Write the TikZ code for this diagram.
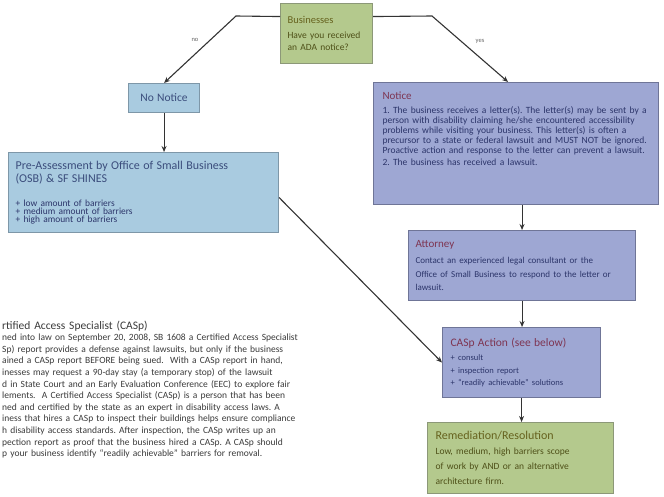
\documentclass[tikz,border=0pt]{standalone}
\usepackage{fontspec}
\setmainfont{Carlito}
\usetikzlibrary{arrows.meta}
\definecolor{gfill}{HTML}{B4C98D}
\definecolor{gedge}{HTML}{8C9878}
\definecolor{bfill}{HTML}{A9CBE0}
\definecolor{bedge}{HTML}{7E97A8}
\definecolor{pfill}{HTML}{9EA7D3}
\definecolor{pedge}{HTML}{6F7597}
\definecolor{olivet}{HTML}{66621E}
\definecolor{oliveb}{HTML}{4E5018}
\definecolor{bluet}{HTML}{3B4D7C}
\definecolor{navyb}{HTML}{2C356A}
\definecolor{maroon}{HTML}{7E3552}
\definecolor{parat}{HTML}{3A3A3A}
\definecolor{linec}{HTML}{333333}
\setlength\lineskiplimit{-20pt}
\frenchspacing
\newcommand\myfs[2]{\fontsize{#1}{#2}\selectfont}
\begin{document}
\begin{tikzpicture}[x=1pt,y=-1pt,
  box/.style={draw, line width=1.1pt, anchor=north west, align=left, inner ysep=0pt},
  gbox/.style={box, fill=gfill, draw=gedge},
  bbox/.style={box, fill=bfill, draw=bedge},
  pbox/.style={box, fill=pfill, draw=pedge},
  arr/.style={draw=linec, line width=1.1pt, -{Stealth[length=6pt,width=5pt]}},
  lbl/.style={font=\myfs{6.5}{7}, text=black!60, inner sep=1pt},
  para/.style={anchor=north west, inner sep=0pt, align=left, text width=360pt}
]
\useasboundingbox (0,0) rectangle (664,497);

% boxes
\node[gbox, minimum width=92pt, minimum height=60pt, inner xsep=7pt, text width=78pt] (biz) at (280,3)
  {\myfs{9.5}{15}{\color{olivet}\myfs{10.5}{15}Businesses}\\\color{oliveb}Have you received\\an ADA notice?};

\node[bbox, minimum width=71pt, minimum height=29pt, inner xsep=2pt, text width=67pt, align=center] (nn) at (128,83)
  {\myfs{11.5}{13}\color{bluet}No Notice};

\node[bbox, minimum width=270pt, minimum height=80pt, inner xsep=7pt, text width=256pt] (pre) at (8,152)
  {\color{bluet}\myfs{12}{13}Pre-Assessment by Office of Small Business\\(OSB) \& SF SHINES\par
   \vspace{16pt}\color{navyb}\myfs{9.4}{8.2}+ low amount of barriers\\+ medium amount of barriers\\+ high amount of barriers\par};

\node[pbox, minimum width=285pt, minimum height=122pt, inner xsep=9pt, text width=267pt] (notice) at (373,82)
  {{\color{maroon}\myfs{11}{12}Notice\par}\vspace{4pt}
   \color{navyb}\myfs{9.5}{9.9}1. The business receives a letter(s). The letter(s) may be sent by a\\
   person with disability claiming he/she encountered accessibility\\
   problems while visiting your business. This letter(s) is often a\\
   precursor to a state or federal lawsuit and MUST NOT be ignored.\\
   Proactive action and response to the letter can prevent a lawsuit.\par
   \vspace{2pt}2. The business has received a lawsuit.\par\vspace{30pt}};

\node[pbox, minimum width=227pt, minimum height=70pt, inner xsep=7pt, text width=213pt] (att) at (408,230)
  {{\color{maroon}\myfs{11}{12}Attorney\par}\vspace{3pt}
   \color{navyb}\myfs{9}{13.5}Contact an experienced legal consultant or the\\
   Office of Small Business to respond to the letter or\\lawsuit.\par};

\node[pbox, minimum width=158pt, minimum height=70pt, inner xsep=8pt, text width=142pt] (casp) at (442,327)
  {{\color{maroon}\myfs{11.5}{12}CASp Action (see below)\par}\vspace{2pt}
   \color{navyb}\myfs{8.5}{12.5}+ consult\\+ inspection report\\+ “readily achievable” solutions\par};

\node[gbox, minimum width=186pt, minimum height=71pt, inner xsep=8pt, text width=170pt] (rem) at (427,422)
  {{\color{olivet}\myfs{12}{15}Remediation/Resolution\par}
   \color{oliveb}\myfs{9.5}{15}Low, medium, high barriers scope\\of work by AND or an alternative\\architecture firm.\par};

% paragraph
\node[para, font=\myfs{11.5}{12}, text=parat] (ptitle) at (2,321) {rtified Access Specialist (CASp)};
\node[para, font=\myfs{9.5}{11.6}, text=parat] (pbody) at (2,334)
  {ned into law on September 20, 2008, SB 1608 a Certified Access Specialist\\
   Sp) report provides a defense against lawsuits, but only if the business\\
   ained a CASp report BEFORE being sued.\ \ With a CASp report in hand,\\
   inesses may request a 90-day stay (a temporary stop) of the lawsuit\\
   d in State Court and an Early Evaluation Conference (EEC) to explore fair\\
   lements.\ \ A Certified Access Specialist (CASp) is a person that has been\\
   ned and certified by the state as an expert in disability access laws. A\\
   iness that hires a CASp to inspect their buildings helps ensure compliance\\
   h disability access standards. After inspection, the CASp writes up an\\
   pection report as proof that the business hired a CASp. A CASp should\\
   p your business identify “readily achievable” barriers for removal.};

% connectors
\coordinate (cno) at (236,16);
\coordinate (cyes) at (432,16);
\draw[arr] ([yshift=17pt]biz.west) -- (cno) -- (nn.north);
\draw[arr] ([yshift=17pt]biz.east) -- (cyes) -- ([xshift=-8pt]notice.north);
\node[lbl] (lno) at (195,40) {no};
\node[lbl] (lyes) at (480,41) {yes};
\draw[arr] (nn.south) -- (nn.south |- pre.north);
\draw[arr] ([yshift=-5pt]pre.east) -- (casp.west);
\draw[arr] (att.north |- notice.south) -- (att.north);
\draw[arr] (att.south) -- (att.south |- casp.north);
\draw[arr] (casp.south) -- (casp.south |- rem.north);
\end{tikzpicture}
\end{document}
